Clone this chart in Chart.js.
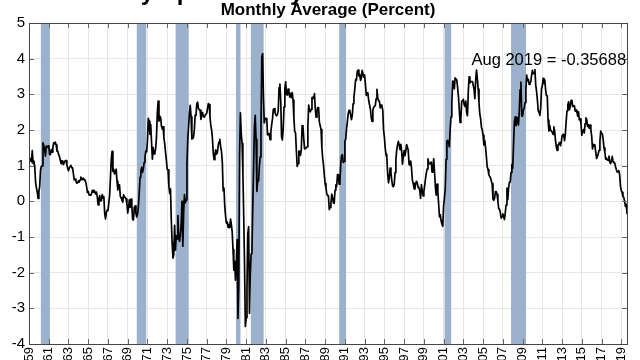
<!DOCTYPE html>
<html>
<head>
<meta charset="utf-8">
<script src="https://cdn.jsdelivr.net/npm/chart.js@4"></script>
<style>
  body { margin: 0; background: #fff; }
  canvas { display: block; }
</style>
</head>
<body>
<canvas id="spread" width="640" height="360"></canvas>
<script>
// 10 yr minus 3 month spread, monthly average, Jan 1959 .. Aug 2019
const s1959 = [1.15, 1.21, 1.14, 1.11, 1.42, 1.06, 1.13, 0.97, 0.54, 0.38, 0.27, 0.08];
const s1960s = [
    0.26, 0.43, 0.87, 0.98, 0.99, 1.64, 1.56, 1.46, 1.27, 1.55, 1.52, 1.55,
    1.56, 1.32, 1.31, 1.45, 1.38, 1.51, 1.64, 1.61, 1.66, 1.58, 1.41, 1.41,
    1.31, 1.26, 1.16, 1.06, 1.14, 1.13, 1.03, 1.10, 1.14, 1.14, 1.03, 0.93,
    0.86, 0.94, 0.98, 1.01, 0.94, 0.94, 0.77, 0.60, 0.62, 0.57, 0.51, 0.52,
    0.57, 0.54, 0.60, 0.68, 0.64, 0.61, 0.65, 0.61, 0.59, 0.54, 0.42, 0.25,
    0.28, 0.18, 0.18, 0.17, 0.22, 0.31, 0.26, 0.31, 0.27, 0.21, 0.26, 0.13,
    -0.10, 0.06, 0.16, 0.01, 0.02, 0.19, 0.09, 0.13, -0.34, -0.49, -0.31, -0.25,
    -0.26, -0.05, 0.17, 0.66, 1.17, 1.40, 0.84, 0.90, 0.77, 0.80, 0.90, 0.56,
    0.32, 0.46, 0.46, 0.14, 0.10, 0.03, -0.02, 0.18, 0.12, 0.11, 0.06, -0.06,
    -0.33, -0.16, 0.04, -0.17, 0.06, -0.12, -0.51, -0.52, -0.17, -0.13, -0.34, -0.44
];
const s1970s = [
    -0.35, -0.13, 0.23, 0.68, 0.85, 0.95, 0.81, 0.92, 1.09, 1.25, 1.41, 1.39,
    1.69, 2.33, 2.24, 1.88, 2.15, 1.64, 1.18, 1.51, 1.33, 1.36, 1.48, 1.82,
    2.49, 2.81, 2.25, 2.39, 2.35, 2.11, 2.03, 2.09, 1.77, 1.62, 1.37, 1.15,
    0.90, 0.88, 0.44, 0.22, 0.35, -0.53, -1.16, -1.59, -1.50, -0.67, -1.37, -0.96,
    -1.05, -0.40, -1.03, -1.12, -0.94, -0.64, 0.00, -1.26, -0.30, 0.19, -0.04, 0.04,
    1.05, 1.74, 2.09, 2.46, 2.69, 2.37, 1.75, 1.76, 1.81, 2.01, 2.42, 2.41,
    2.74, 2.78, 2.60, 2.57, 2.56, 2.30, 2.46, 2.49, 2.37, 2.36, 2.41, 2.41,
    2.47, 2.60, 2.74, 2.71, 2.37, 2.13, 2.00, 1.76, 1.36, 1.17, 1.30, 1.44,
    1.32, 1.38, 1.56, 1.67, 1.74, 1.52, 1.40, 1.10, 0.30, 0.37, -0.15, -0.42,
    -0.61, -0.58, -0.73, -0.65, -0.74, -0.50, -0.65, -0.86, -1.35, -1.93, -1.68, -2.21
];
const s1980s = [
    -1.75, -1.07, -3.28, -2.38, 1.29, 2.48, 1.91, 1.62, 0.82, -0.39, -1.75, -3.51,
    -3.26, -2.39, -0.91, -0.71, -3.14, -2.04, -1.47, -1.43, -0.16, 0.93, 2.07, 2.41,
    1.74, 0.28, 0.58, 0.57, 0.97, 1.24, 2.10, 4.06, 4.14, 2.94, 2.20, 2.32,
    2.33, 2.32, 1.86, 1.90, 1.90, 1.73, 1.95, 2.15, 2.31, 2.58, 2.60, 2.49,
    2.43, 2.40, 2.43, 2.56, 3.19, 3.29, 2.83, 1.81, 1.72, 2.04, 2.65, 3.16,
    3.35, 3.00, 2.98, 3.15, 3.03, 2.92, 3.03, 2.91, 3.05, 2.83, 2.34, 1.96,
    1.92, 1.44, 0.98, 1.06, 1.41, 1.40, 1.29, 1.44, 2.12, 2.11, 1.75, 1.47,
    1.48, 1.50, 1.53, 2.10, 2.70, 2.55, 2.51, 2.58, 2.91, 2.92, 2.88, 3.02,
    2.60, 2.36, 2.52, 2.63, 2.63, 2.22, 2.12, 2.01, 1.51, 1.21, 1.02, 0.73,
    0.50, 0.38, 0.20, 0.16, 0.16, -0.23, -0.17, -0.07, 0.20, 0.12, -0.04, -0.06
];
const s1990s = [
    0.31, 0.46, 0.41, 0.75, 0.75, 0.48, 0.59, 1.05, 1.28, 1.31, 1.09, 1.12,
    1.68, 1.74, 2.03, 2.23, 2.46, 2.55, 2.53, 2.42, 2.29, 2.41, 2.74, 2.92,
    3.14, 3.41, 3.40, 3.64, 3.68, 3.52, 3.56, 3.39, 3.45, 3.67, 3.67, 3.48,
    3.54, 3.27, 2.97, 3.04, 3.02, 2.82, 2.70, 2.59, 2.35, 2.24, 2.55, 2.64,
    2.66, 2.69, 2.88, 3.14, 2.89, 2.82, 2.80, 2.62, 2.70, 2.65, 2.57, 2.01,
    1.80, 1.50, 1.31, 1.23, 0.77, 0.52, 0.66, 0.93, 0.80, 0.59, 0.43, 0.41,
    0.49, 0.81, 1.18, 1.43, 1.58, 1.68, 1.58, 1.45, 1.60, 1.41, 1.04, 1.26,
    1.42, 1.28, 1.41, 1.59, 1.52, 1.43, 1.04, 1.02, 1.13, 0.93, 0.60, 0.51,
    0.37, 0.34, 0.49, 0.56, 0.52, 0.39, 0.37, 0.31, 0.08, 0.47, 0.31, 0.15,
    0.27, 0.44, 0.64, 0.79, 0.91, 1.19, 1.07, 1.05, 1.07, 1.10, 0.82, 0.94
];
const s2000s = [
    1.19, 0.81, 0.41, 0.17, 0.48, 0.25, -0.08, -0.44, -0.38, -0.55, -0.64, -0.70,
    -0.13, 0.09, 0.36, 1.18, 1.69, 1.71, 1.65, 1.53, 2.04, 2.37, 2.75, 3.37,
    3.36, 3.15, 3.46, 3.46, 3.40, 3.20, 2.94, 2.61, 2.21, 2.33, 2.80, 2.82,
    2.86, 2.71, 2.66, 2.81, 2.48, 2.40, 3.07, 3.49, 3.32, 3.36, 3.36, 3.36,
    3.26, 3.14, 2.88, 3.40, 3.68, 3.44, 3.15, 2.77, 2.45, 2.31, 2.08, 2.00,
    1.85, 1.58, 1.71, 1.51, 1.25, 0.97, 0.89, 0.74, 0.70, 0.66, 0.57, 0.49,
    0.07, 0.03, 0.09, 0.27, 0.27, 0.19, 0.01, -0.21, -0.22, -0.32, -0.47, -0.42,
    -0.35, -0.44, -0.51, -0.31, -0.10, 0.37, 0.05, 0.37, 0.54, 0.54, 0.81, 1.03,
    0.93, 1.58, 2.23, 2.37, 2.12, 2.21, 2.35, 2.14, 2.54, 3.13, 3.34, 2.39,
    2.39, 2.57, 2.61, 2.77, 3.11, 3.54, 3.38, 3.42, 3.28, 3.32, 3.35, 3.54
];
const s2010s = [
    3.67, 3.58, 3.58, 3.69, 3.26, 3.08, 2.85, 2.54, 2.50, 2.41, 2.62, 3.15,
    3.24, 3.45, 3.31, 3.40, 3.13, 2.96, 2.96, 2.28, 1.97, 2.13, 2.00, 1.97,
    1.94, 1.88, 2.09, 1.97, 1.71, 1.53, 1.43, 1.58, 1.61, 1.65, 1.56, 1.65,
    1.84, 1.88, 1.87, 1.70, 1.89, 2.25, 2.54, 2.70, 2.79, 2.57, 2.65, 2.83,
    2.82, 2.66, 2.67, 2.68, 2.53, 2.56, 2.51, 2.39, 2.51, 2.28, 2.31, 2.18,
    1.85, 1.96, 2.01, 1.92, 2.18, 2.34, 2.29, 2.10, 2.15, 2.05, 2.14, 2.01,
    1.83, 1.47, 1.60, 1.58, 1.54, 1.37, 1.20, 1.26, 1.34, 1.43, 1.69, 1.97,
    1.91, 1.89, 1.73, 1.50, 1.38, 1.18, 1.21, 1.16, 1.15, 1.27, 1.10, 1.06,
    1.14, 1.26, 1.11, 1.08, 1.08, 0.97, 0.89, 0.82, 0.83, 0.86, 0.75, 0.42,
    0.30, 0.25, 0.13, 0.11, 0.01, -0.14, -0.08, -0.35688
];

// NBER recessions (decimal years)
const recessionStart = [1960.2, 1969.92, 1973.85, 1979.97, 1981.47, 1990.42, 2001.1, 2007.83];
const recessionEnd = [1961.12, 1970.88, 1975.18, 1980.42, 1982.77, 1991.12, 2001.77, 2009.35];

const tickYears = [1959, 1961, 1963, 1965, 1967, 1969, 1971, 1973, 1975, 1977, 1979,
    1981, 1983, 1985, 1987, 1989, 1991, 1993, 1995, 1997, 1999,
    2001, 2003, 2005, 2007, 2009, 2011, 2013, 2015, 2017, 2019];

const titleText = 'Treasury Spread: 10 yr bond rate-3 month bill rate';
const subtitleText = 'Monthly Average (Percent)';
const lastLabel = 'Aug 2019 = -0.35688';

const spread = [].concat(s1959, s1960s, s1970s, s1980s, s1990s, s2000s, s2010s);
const points = spread.map((v, i) => ({ x: 1959 + i / 12, y: v }));
const lastX = points[points.length - 1].x;

const recessionBars = {
    id: 'recessionBars',
    beforeDatasetsDraw(chart) {
        const { ctx, chartArea, scales } = chart;
        ctx.save();
        ctx.fillStyle = '#9bb1cc';
        recessionStart.forEach((s, i) => {
            const x0 = scales.x.getPixelForValue(s);
            const x1 = scales.x.getPixelForValue(recessionEnd[i]);
            ctx.fillRect(x0, chartArea.top, x1 - x0, chartArea.bottom - chartArea.top);
        });
        ctx.restore();
    }
};

const frame = {
    id: 'frame',
    afterDraw(chart) {
        const { ctx, chartArea: a, scales } = chart;
        ctx.save();
        // inward tick marks on all four sides
        ctx.strokeStyle = '#666';
        ctx.lineWidth = 1;
        ctx.beginPath();
        scales.x.ticks.forEach(t => {
            const x = Math.round(scales.x.getPixelForValue(t.value)) + 0.5;
            ctx.moveTo(x, a.bottom); ctx.lineTo(x, a.bottom - 5);
            ctx.moveTo(x, a.top); ctx.lineTo(x, a.top + 5);
        });
        scales.y.ticks.forEach(t => {
            const y = Math.round(scales.y.getPixelForValue(t.value)) + 0.5;
            ctx.moveTo(a.left, y); ctx.lineTo(a.left + 5, y);
            ctx.moveTo(a.right, y); ctx.lineTo(a.right - 5, y);
        });
        ctx.stroke();
        ctx.strokeStyle = '#444';
        ctx.strokeRect(Math.round(a.left) + 0.5, Math.round(a.top) + 0.5,
            Math.round(a.right - a.left), Math.round(a.bottom - a.top));

        // titles, the first one mostly above the picture
        ctx.fillStyle = '#000';
        ctx.textBaseline = 'alphabetic';
        ctx.textAlign = 'left';
        ctx.font = 'bold 24px "Liberation Sans", Arial, sans-serif';
        ctx.fillText(titleText, 54, -0.5);
        ctx.textAlign = 'center';
        ctx.font = 'bold 17px "Liberation Sans", Arial, sans-serif';
        ctx.fillText(subtitleText, (a.left + a.right) / 2, 15);

        // label for the last value
        ctx.textAlign = 'right';
        ctx.font = '16.5px "Liberation Sans", Arial, sans-serif';
        ctx.fillText(lastLabel, scales.x.getPixelForValue(lastX) - 1, scales.y.getPixelForValue(3.81));
        ctx.restore();
    }
};

const chartSpread = new Chart(document.getElementById('spread'), {
    type: 'line',
    data: {
        datasets: [
            {
                data: points,
                borderColor: '#000',
                borderWidth: 1.7,
                borderJoinStyle: 'round',
                pointRadius: 0,
                tension: 0,
            }
        ]
    },
    options: {
        responsive: false,
        animation: false,
        devicePixelRatio: 1,
        layout: {
            padding: { top: 23, right: 11, left: 0, bottom: 0 }
        },
        plugins: {
            legend: { display: false },
            tooltip: { enabled: false },
        },
        scales: {
            x: {
                type: 'linear',
                min: 1959,
                max: lastX,
                afterBuildTicks: (scale) => {
                    scale.ticks = tickYears.map(v => ({ value: v }));
                },
                afterFit: (scale) => { scale.height = 16; },
                grid: { color: '#e6e6e6', drawTicks: false },
                border: { display: false },
                ticks: {
                    autoSkip: false,
                    minRotation: 90,
                    maxRotation: 90,
                    padding: 3,
                    color: '#000',
                    font: { family: '"Liberation Sans", Arial, sans-serif', size: 13 },
                    callback: (v) => String(v).slice(2),
                }
            },
            y: {
                min: -4,
                max: 5,
                afterFit: (scale) => { scale.width = 29; },
                grid: { color: '#e6e6e6', drawTicks: false },
                border: { display: false },
                ticks: {
                    stepSize: 1,
                    padding: 4,
                    color: '#000',
                    font: { family: '"Liberation Sans", Arial, sans-serif', size: 15 },
                }
            }
        }
    },
    plugins: [recessionBars, frame]
});
</script>
</body>
</html>
